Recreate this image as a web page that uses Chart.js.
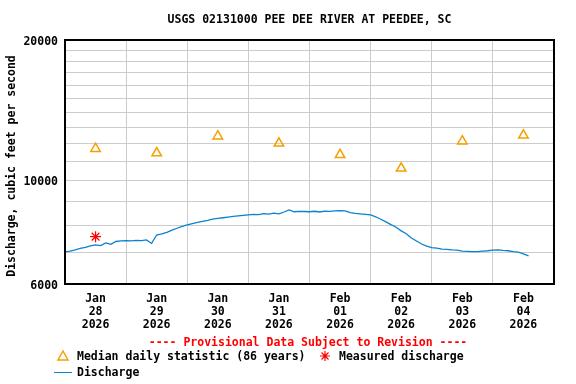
<!DOCTYPE html>
<html>
<head>
<meta charset="utf-8">
<script src="https://cdn.jsdelivr.net/npm/chart.js@4.4.1/dist/chart.umd.min.js"></script>
<style>
  html, body { margin: 0; padding: 0; background: #fff; }
  #wrap { width: 576px; height: 384px; }
</style>
</head>
<body>
<div id="wrap"><canvas id="mychart" width="576" height="384"></canvas></div>
<script>
// data
const chartTitle = 'USGS 02131000 PEE DEE RIVER AT PEEDEE, SC';
const yTitle = 'Discharge, cubic feet per second';
const dayMonths = ['Jan', 'Jan', 'Jan', 'Jan', 'Feb', 'Feb', 'Feb', 'Feb'];
const dayNumbers = ['28', '29', '30', '31', '01', '02', '03', '04'];
const dayYear = '2026';

// median daily statistic (86 years), one per day at noon
const medianValues = [11700, 11450, 12440, 12010, 11350, 10620, 12140, 12500];

// measured discharge (hours after Jan 28 00:00)
const measuredHours = [12];
const measuredValues = [7580];

// discharge every 2 hours from Jan 28 00:00
const dischargeStepHours = 2;
const dischargeValues = [
    7030, 7060, 7100, 7150, 7190, 7240, 7280, 7250, 7350, 7300, 7400, 7420, // jan 28
    7430, 7420, 7440, 7430, 7460, 7330, 7640, 7680, 7740, 7830, 7900, 7970, // jan 29
    8030, 8080, 8130, 8170, 8210, 8260, 8290, 8320, 8350, 8380, 8400, 8420, // jan 30
    8440, 8460, 8450, 8490, 8470, 8510, 8480, 8560, 8650, 8570, 8590, 8580, // jan 31
    8570, 8590, 8560, 8600, 8590, 8610, 8620, 8610, 8530, 8500, 8480, 8460, // feb 01
    8440, 8360, 8260, 8150, 8040, 7940, 7800, 7690, 7530, 7420, 7310, 7230, // feb 02
    7180, 7160, 7130, 7120, 7100, 7090, 7060, 7050, 7040, 7040, 7060, 7070, // feb 03
    7090, 7100, 7080, 7070, 7040, 7020, 6960, 6890                          // feb 04
];

const yGrid = [6000, 7000, 8000, 9000, 10000, 11000, 12000, 13000, 14000, 15000, 16000, 17000, 18000, 19000, 20000];
const yLabeled = [6000, 10000, 20000];

const FONT = '"DejaVu Sans Mono", monospace';
const orange = '#f5a000';
const red = '#ff0000';
const blue = '#0a82d0';

const medianPoints = medianValues.map((v, i) => ({ x: i * 24 + 12, y: v }));
const measuredPoints = measuredValues.map((v, i) => ({ x: measuredHours[i], y: v }));
const dischargePoints = dischargeValues.map((v, i) => ({ x: i * dischargeStepHours, y: v }));

//tegner ramme, tittel og forklaring
const textPlugin = {
    id: 'texts',
    afterDraw(chart) {
        const c = chart.ctx;
        const a = chart.chartArea;
        c.save();
        c.strokeStyle = '#000';
        c.lineWidth = 2;
        c.strokeRect(a.left, a.top, a.right - a.left, a.bottom - a.top);

        c.font = 'bold 11.5px ' + FONT;
        c.fillStyle = '#000';
        c.textAlign = 'center';
        c.textBaseline = 'middle';
        c.fillText(chartTitle, (a.left + a.right) / 2, 20);

        c.save();
        c.translate(12, 166);
        c.rotate(-Math.PI / 2);
        c.fillText(yTitle, 0, 0);
        c.restore();

        c.fillStyle = red;
        c.fillText('---- Provisional Data Subject to Revision ----', 308, 343);

        // legend
        c.textAlign = 'left';
        c.fillStyle = '#000';
        c.fillText('Median daily statistic (86 years)', 77, 357);
        c.fillText('Measured discharge', 339, 357);
        c.fillText('Discharge', 77, 373);

        c.strokeStyle = orange;
        c.lineWidth = 1.5;
        c.beginPath();
        c.moveTo(63, 351);
        c.lineTo(68, 360);
        c.lineTo(58, 360);
        c.closePath();
        c.stroke();

        c.strokeStyle = red;
        c.lineWidth = 1.2;
        const sx = 325, sy = 356, r = 5;
        c.beginPath();
        c.moveTo(sx - r, sy); c.lineTo(sx + r, sy);
        c.moveTo(sx, sy - r); c.lineTo(sx, sy + r);
        c.moveTo(sx - r * 0.7, sy - r * 0.7); c.lineTo(sx + r * 0.7, sy + r * 0.7);
        c.moveTo(sx - r * 0.7, sy + r * 0.7); c.lineTo(sx + r * 0.7, sy - r * 0.7);
        c.stroke();

        c.strokeStyle = blue;
        c.lineWidth = 1;
        c.beginPath();
        c.moveTo(54, 372.5);
        c.lineTo(72, 372.5);
        c.stroke();
        c.restore();
    }
};

const ctx = document.getElementById('mychart');
const mychart = new Chart(ctx, {
    type: 'line',
    data: {
        datasets: [
            {
                label: 'Median daily statistic (86 years)',
                data: medianPoints,
                showLine: false,
                pointStyle: 'triangle',
                pointRadius: 5.5,
                borderColor: orange,
                backgroundColor: 'transparent',
                pointBorderWidth: 1.5
            },
            {
                label: 'Measured discharge',
                data: measuredPoints,
                showLine: false,
                pointStyle: 'star',
                pointRadius: 5.5,
                borderColor: red,
                pointBorderWidth: 1.2
            },
            {
                label: 'Discharge',
                data: dischargePoints,
                borderColor: blue,
                borderWidth: 1.3,
                pointRadius: 0,
                tension: 0
            }
        ]
    },
    options: {
        responsive: false,
        animation: false,
        events: [],
        layout: { padding: { top: 40, right: 22, left: 0, bottom: 0 } },
        plugins: {
            legend: { display: false },
            tooltip: { enabled: false }
        },
        scales: {
            x: {
                type: 'linear',
                min: 0,
                max: 192,
                afterBuildTicks: function(scale) {
                    const t = [];
                    for (let h = 0; h <= 192; h += 12) t.push({ value: h });
                    scale.ticks = t;
                },
                afterFit: function(scale) { scale.height = 100; },
                grid: {
                    drawTicks: false,
                    color: c => (c.tick && c.tick.value % 24 === 0) ? '#cccccc' : 'rgba(0,0,0,0)'
                },
                border: { display: false },
                ticks: {
                    autoSkip: false,
                    maxRotation: 0,
                    padding: 9,
                    color: '#000',
                    font: { family: FONT, size: 11.5, weight: 'bold', lineHeight: 1.13 },
                    callback: function(v) {
                        if (v % 24 !== 12) return '';
                        const d = Math.floor(v / 24);
                        return [dayMonths[d], dayNumbers[d], dayYear];
                    }
                }
            },
            y: {
                type: 'logarithmic',
                min: 6000,
                max: 20000,
                afterBuildTicks: function(scale) {
                    scale.ticks = yGrid.map(v => ({ value: v }));
                },
                afterFit: function(scale) { scale.width = 65; },
                grid: { drawTicks: false, color: '#cccccc' },
                border: { display: false },
                ticks: {
                    autoSkip: false,
                    padding: 7,
                    labelOffset: 2,
                    color: '#000',
                    font: { family: FONT, size: 11.5, weight: 'bold' },
                    callback: v => yLabeled.includes(v) ? String(v) : ''
                }
            }
        }
    },
    plugins: [textPlugin]
});
</script>
</body>
</html>
